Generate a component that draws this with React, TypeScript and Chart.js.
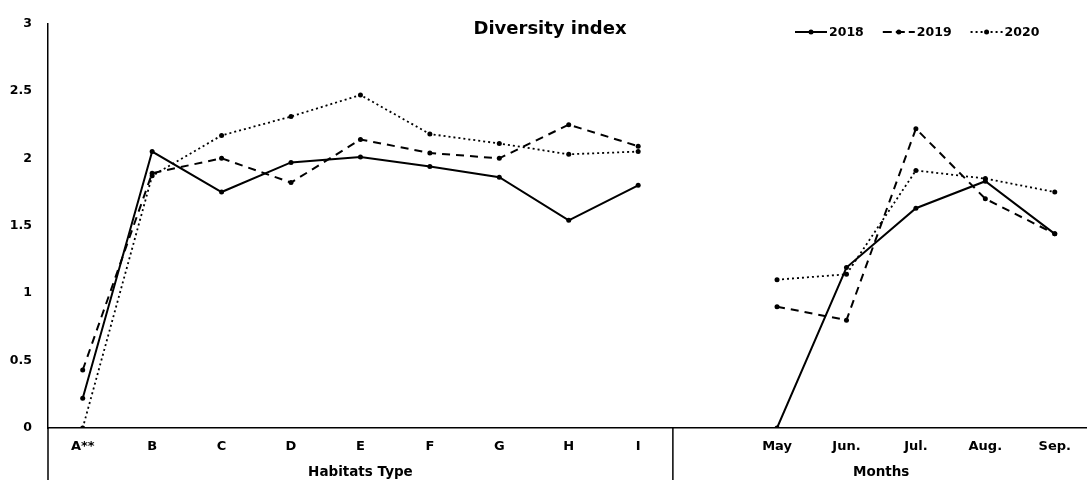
import React, { useEffect, useRef } from 'react';
import { Chart, registerables } from 'chart.js';

Chart.register(...registerables);

// Category labels along the x axis (a blank slot separates the two groups)
const habitats = ['A**', 'B', 'C', 'D', 'E', 'F', 'G', 'H', 'I'];
const months = ['May', 'Jun.', 'Jul.', 'Aug.', 'Sep.'];
const categories = [...habitats, '', ...months];

// Diversity index per year (null = group break)
const y2018 = [0.22, 2.05, 1.75, 1.97, 2.01, 1.94, 1.86, 1.54, 1.8, null, 0.0, 1.19, 1.63, 1.83, 1.44];
const y2019 = [0.43, 1.89, 2.0, 1.82, 2.14, 2.04, 2.0, 2.25, 2.09, null, 0.9, 0.8, 2.22, 1.7, 1.44];
const y2020 = [0.0, 1.87, 2.17, 2.31, 2.47, 2.18, 2.11, 2.03, 2.05, null, 1.1, 1.14, 1.91, 1.85, 1.75];

const years = ['2018', '2019', '2020'];
const dashes: number[][] = [[], [8, 6], [2, 3]];
const legendDashes: number[][] = [[], [9, 4], [2, 3]];
const widths = [2, 2, 1.8];

const FONT = "'DejaVu Sans', 'Noto Sans', sans-serif";

export default function App() {
  const ref = useRef<HTMLCanvasElement>(null);

  useEffect(() => {
    const canvas = ref.current;
    if (!canvas) return;

    const series = [y2018, y2019, y2020];
    const tickValues = categories.map((c, i) => (c ? i : null)).filter((v) => v !== null) as number[];

    const overlay = {
      id: 'overlay',
      afterDraw(chart: any) {
        const { ctx, chartArea, scales } = chart;
        const xs = scales.x;
        ctx.save();
        ctx.strokeStyle = '#000';
        ctx.lineWidth = 1.5;
        // axis extension below zero and group divider
        ctx.beginPath();
        ctx.moveTo(chartArea.left, chartArea.bottom);
        ctx.lineTo(chartArea.left, 480);
        ctx.stroke();
        const div = xs.getPixelForValue(8.5);
        ctx.beginPath();
        ctx.moveTo(div, chartArea.bottom);
        ctx.lineTo(div, 480);
        ctx.stroke();

        // group labels
        ctx.fillStyle = '#000';
        ctx.textAlign = 'center';
        ctx.textBaseline = 'middle';
        ctx.font = `bold 13.5px ${FONT}`;
        ctx.fillText('Habitats Type', (chartArea.left + div) / 2, 472);
        ctx.fillText('Months', xs.getPixelForValue(11.5), 472);

        // title
        ctx.font = `bold 18px ${FONT}`;
        ctx.fillText('Diversity index', 550, 29);

        // legend
        ctx.font = `bold 12.5px ${FONT}`;
        ctx.textAlign = 'left';
        let lx = 795;
        const ly = 32;
        years.forEach((yr, i) => {
          ctx.save();
          ctx.lineWidth = widths[i];
          ctx.setLineDash(legendDashes[i]);
          ctx.beginPath();
          ctx.moveTo(lx, ly);
          ctx.lineTo(lx + 32, ly);
          ctx.stroke();
          ctx.restore();
          ctx.beginPath();
          ctx.arc(lx + 16, ly, 2.5, 0, Math.PI * 2);
          ctx.fill();
          ctx.fillText(yr, lx + 34, ly + 1);
          lx += 34 + ctx.measureText(yr).width + 19;
        });
        ctx.restore();
      },
    };

    const chart = new Chart(canvas, {
      type: 'line',
      data: {
        datasets: years.map((yr, i) => ({
          label: yr,
          data: categories.map((_, j) => ({ x: j, y: series[i][j] })),
          borderColor: '#000',
          backgroundColor: '#000',
          borderWidth: widths[i],
          borderDash: dashes[i],
          pointRadius: 2.5,
          pointBorderWidth: 0,
          pointBackgroundColor: '#000',
          spanGaps: false,
          tension: 0,
          fill: false,
        })),
      },
      options: {
        responsive: false,
        animation: false,
        devicePixelRatio: 1,
        layout: { padding: { top: 13, right: 0, left: 0, bottom: 0 } },
        plugins: {
          legend: { display: false },
          title: { display: false },
          tooltip: { enabled: false },
        },
        scales: {
          x: {
            type: 'linear',
            min: -0.5,
            max: 14.45,
            grid: { display: false, drawTicks: false },
            border: { display: true, color: '#000', width: 1.5 },
            afterBuildTicks: (scale: any) => {
              scale.ticks = tickValues.map((v) => ({ value: v }));
            },
            afterFit: (scale: any) => {
              scale.height = 55;
            },
            ticks: {
              autoSkip: false,
              maxRotation: 0,
              padding: 11,
              color: '#000',
              font: { family: FONT, size: 13, weight: 'bold' },
              callback: (v: any) => categories[Math.round(Number(v))] ?? '',
            },
          },
          y: {
            min: 0,
            max: 3,
            grid: { display: false, drawTicks: false },
            border: { display: true, color: '#000', width: 1.5 },
            afterFit: (scale: any) => {
              scale.width = 48;
            },
            ticks: {
              stepSize: 0.5,
              padding: 16,
              color: '#000',
              font: { family: FONT, size: 12.5, weight: 'bold' },
              callback: (v: any) => String(Number(v)),
            },
          },
        },
      },
      plugins: [overlay],
    } as any);

    return () => chart.destroy();
  }, []);

  return (
    <div style={{ position: 'absolute', left: 0, top: 0, width: 1090, height: 483, background: '#fff' }}>
      <canvas ref={ref} width={1090} height={483} />
    </div>
  );
}
